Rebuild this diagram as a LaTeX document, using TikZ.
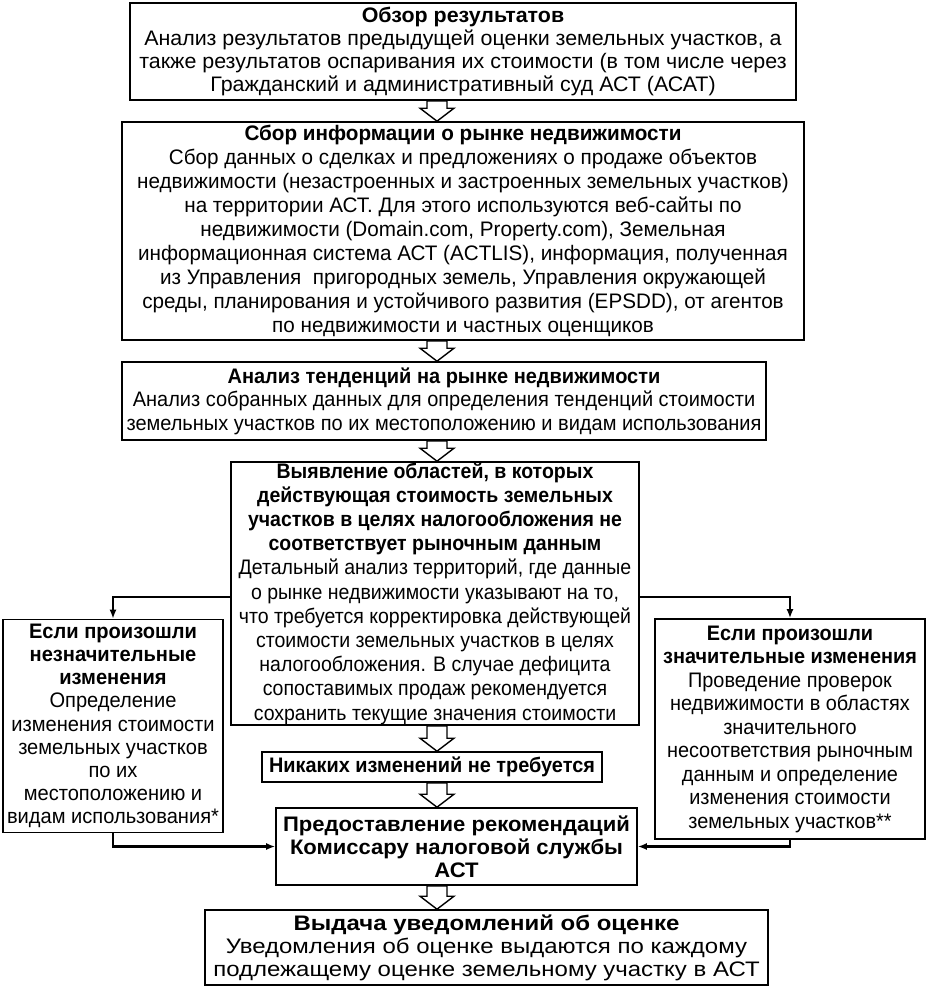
\documentclass[tikz,border=0pt]{standalone}
\usepackage{fontspec}
\setmainfont{Liberation Sans}
\usetikzlibrary{arrows.meta,calc}

\newcommand{\hollowdown}[2]{%
  \draw[blockarrow] ($(#1)+(-10,0)$) -- ($(#2)+(-10,-13)$) -- ($(#2)+(-17,-13)$)
    -- (#2) -- ($(#2)+(17,-13)$) -- ($(#2)+(10,-13)$) -- ($(#1)+(10,0)$) -- cycle;
}

\begin{document}
\begin{tikzpicture}[
  x=1pt,
  y=-1pt,
  stepbox/.style={draw=black, line width=1.6pt, align=center, inner sep=0pt},
  wide/.style 2 args={font=\fontsize{21}{#2}\selectfont\addfontfeatures{FakeStretch=#1}},
  blockarrow/.style={draw=black, fill=white, line width=1.4pt, line join=miter},
  link/.style={-{Latex[length=9pt,width=7pt]}, draw=black, line width=2.2pt}
]
  \useasboundingbox (0,0) rectangle (926,989);

  \node[stepbox, wide={1.02}{22.7}, minimum width=666, minimum height=97] (review) at (463,51.5)
    {\textbf{Обзор результатов}\\
     Анализ результатов предыдущей оценки земельных участков, а\\
     также результатов оспаривания их стоимости (в том числе через\\
     Гражданский и административный суд АСТ (АСАТ)};

  \node[stepbox, wide={0.984}{24}, minimum width=682, minimum height=218] (collect) at (463,231)
    {\textbf{Сбор информации о рынке недвижимости}\\
     Сбор данных о сделках и предложениях о продаже объектов\\
     недвижимости (незастроенных и застроенных земельных участков)\\
     на территории АСТ. Для этого используются веб-сайты по\\
     недвижимости (Domain.com, Property.com), Земельная\\
     информационная система АСТ (ACTLIS), информация, полученная\\
     из Управления\ \ пригородных земель, Управления окружающей\\
     среды, планирования и устойчивого развития (EPSDD), от агентов\\
     по недвижимости и частных оценщиков};

  \node[stepbox, wide={0.952}{23.5}, minimum width=644, minimum height=78] (trends) at (444,401)
    {\textbf{Анализ тенденций на рынке недвижимости}\\
     Анализ собранных данных для определения тенденций стоимости\\
     земельных участков по их местоположению и видам использования};

  \node[stepbox, wide={0.929}{24.2}, minimum width=408, minimum height=263] (areas) at (435,593.5)
    {\textbf{Выявление областей, в которых}\\
     \textbf{действующая стоимость земельных}\\
     \textbf{участков в целях налогообложения не}\\
     \textbf{соответствует рыночным данным}\\
     Детальный анализ территорий, где данные\\
     о рынке недвижимости указывают на то,\\
     что требуется корректировка действующей\\
     стоимости земельных участков в целях\\
     налогообложения. В случае дефицита\\
     сопоставимых продаж рекомендуется\\
     сохранить текущие значения стоимости};

  \node[stepbox, wide={0.947}{24}, minimum width=340, minimum height=30] (nochange) at (432,767)
    {\textbf{Никаких изменений не требуется}};

  \node[stepbox, wide={1.049}{23}, minimum width=361, minimum height=77] (advice) at (456.5,846.5)
    {\textbf{Предоставление рекомендаций}\\
     \textbf{Комиссару налоговой службы}\\
     \textbf{АСТ}};

  \node[stepbox, wide={1.142}{23}, minimum width=563, minimum height=75] (notices) at (486.5,947.5)
    {\textbf{Выдача уведомлений об оценке}\\
     Уведомления об оценке выдаются по каждому\\
     подлежащему оценке земельному участку в АСТ};

  \node[stepbox, wide={0.956}{23.2}, minimum width=220, minimum height=213] (minor) at (113,726)
    {\textbf{Если произошли}\\
     \textbf{незначительные}\\
     \textbf{изменения}\\
     Определение\\
     изменения стоимости\\
     земельных участков\\
     по их\\
     местоположению и\\
     видам использования*};

  \node[stepbox, wide={0.947}{23.5}, minimum width=270, minimum height=220] (major) at (790,729)
    {\textbf{Если произошли}\\
     \textbf{значительные изменения}\\
     Проведение проверок\\
     недвижимости в областях\\
     значительного\\
     несоответствия рыночным\\
     данным и определение\\
     изменения стоимости\\
     земельных участков**};

  \coordinate (axis) at (437,0);
  \foreach \from/\to in {review/collect, collect/trends, trends/areas,
                         areas/nochange, nochange/advice, advice/notices} {
    \coordinate (top) at (axis |- \from.south);
    \coordinate (tip) at (axis |- \to.north);
    \hollowdown{top}{tip}
  }

  \draw[link] ([yshift=-3.5]areas.west) -| (minor.north);
  \draw[link] ([yshift=-3.5]areas.east) -| (major.north);
  \draw[link] (minor.south) |- (advice.west);
  \draw[link] (major.south) |- (advice.east);
\end{tikzpicture}
\end{document}
